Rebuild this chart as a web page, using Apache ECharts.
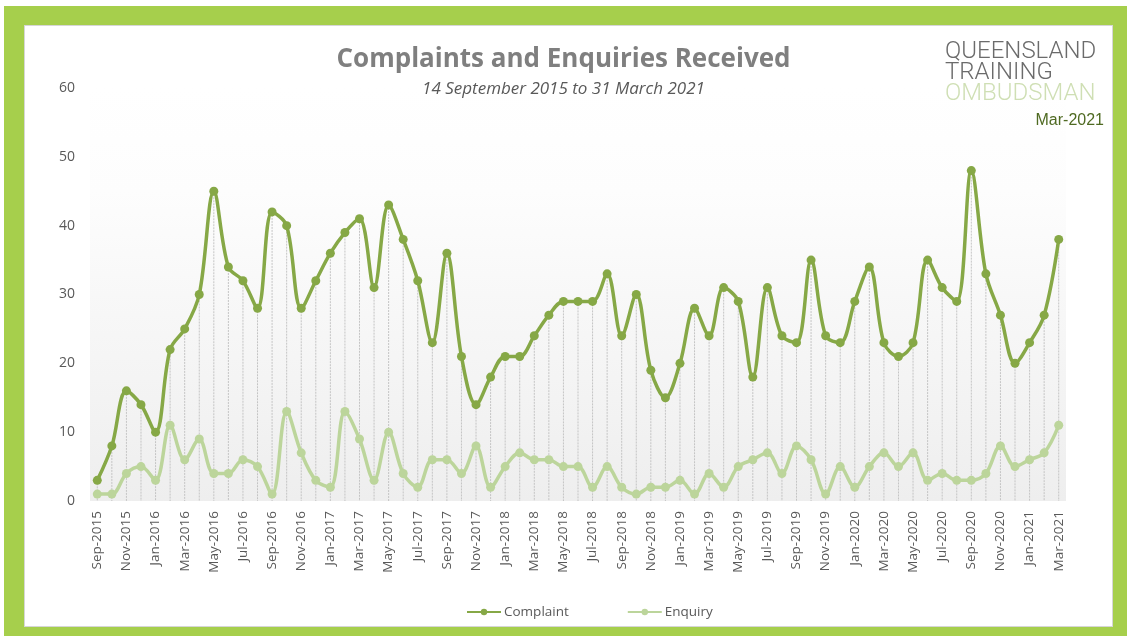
<!DOCTYPE html>
<html>
<head>
<meta charset="utf-8">
<title>Complaints and Enquiries Received</title>
<script src="https://cdn.jsdelivr.net/npm/echarts@6/dist/echarts.min.js"></script>
<style>
    html, body { margin: 0; padding: 0; background: #fff; }
    #frame {
        position: absolute; left: 4px; top: 6px; width: 1123px; height: 630px;
        background: #a6cf4c;
    }
    #panel {
        position: absolute; left: 24px; top: 25px; width: 1087px; height: 600px;
        background: #fff; border: 1px solid #d6d6d6;
    }
    #main { position: absolute; left: 0; top: 0; width: 1127px; height: 636px; }
</style>
</head>
<body>
<div id="frame"></div>
<div id="panel"></div>
<div id="main"></div>
<script>
// ------------------------------------------------------------------------
// Data (monthly, Sep-2015 .. Mar-2021)
// ------------------------------------------------------------------------
var months = [
    'Sep-2015', 'Oct-2015', 'Nov-2015', 'Dec-2015',
    'Jan-2016', 'Feb-2016', 'Mar-2016', 'Apr-2016', 'May-2016', 'Jun-2016', 'Jul-2016', 'Aug-2016', 'Sep-2016', 'Oct-2016', 'Nov-2016', 'Dec-2016',
    'Jan-2017', 'Feb-2017', 'Mar-2017', 'Apr-2017', 'May-2017', 'Jun-2017', 'Jul-2017', 'Aug-2017', 'Sep-2017', 'Oct-2017', 'Nov-2017', 'Dec-2017',
    'Jan-2018', 'Feb-2018', 'Mar-2018', 'Apr-2018', 'May-2018', 'Jun-2018', 'Jul-2018', 'Aug-2018', 'Sep-2018', 'Oct-2018', 'Nov-2018', 'Dec-2018',
    'Jan-2019', 'Feb-2019', 'Mar-2019', 'Apr-2019', 'May-2019', 'Jun-2019', 'Jul-2019', 'Aug-2019', 'Sep-2019', 'Oct-2019', 'Nov-2019', 'Dec-2019',
    'Jan-2020', 'Feb-2020', 'Mar-2020', 'Apr-2020', 'May-2020', 'Jun-2020', 'Jul-2020', 'Aug-2020', 'Sep-2020', 'Oct-2020', 'Nov-2020', 'Dec-2020',
    'Jan-2021', 'Feb-2021', 'Mar-2021'
];

var complaints = [
    3, 8, 16, 14,
    10, 22, 25, 30, 45, 34, 32, 28, 42, 40, 28, 32,
    36, 39, 41, 31, 43, 38, 32, 23, 36, 21, 14, 18,
    21, 21, 24, 27, 29, 29, 29, 33, 24, 30, 19, 15,
    20, 28, 24, 31, 29, 18, 31, 24, 23, 35, 24, 23,
    29, 34, 23, 21, 23, 35, 31, 29, 48, 33, 27, 20,
    23, 27, 38
];

var enquiries = [
    1, 1, 4, 5,
    3, 11, 6, 9, 4, 4, 6, 5, 1, 13, 7, 3,
    2, 13, 9, 3, 10, 4, 2, 6, 6, 4, 8, 2,
    5, 7, 6, 6, 5, 5, 2, 5, 2, 1, 2, 2,
    3, 1, 4, 2, 5, 6, 7, 4, 8, 6, 1, 5,
    2, 5, 7, 5, 7, 3, 4, 3, 3, 4, 8, 5,
    6, 7, 11
];

var yTicks = { min: 0, max: 60, step: 10 };

var COMPLAINT = '#86a846';
var ENQUIRY = '#bcd59b';
var FONT = '"Open Sans", "DejaVu Sans", sans-serif';

var chart = echarts.init(document.getElementById('main'));

var option = {
    animation: false,
    title: {
        text: 'Complaints and Enquiries Received',
        subtext: '14 September 2015 to 31 March 2021',
        left: 'center',
        top: 42,
        itemGap: 8,
        textStyle: { fontFamily: FONT, fontSize: 26, fontWeight: 'bold', color: '#7f7f7f' },
        subtextStyle: { fontFamily: FONT, fontSize: 17, fontStyle: 'italic', color: '#595959' }
    },
    graphic: [
        {
            type: 'text', left: 945, top: 40,
            style: { text: 'QUEENSLAND\nTRAINING', fill: '#6b6b6b', fontFamily: 'Roboto, sans-serif', fontWeight: 300, fontSize: 24, lineHeight: 21 }
        },
        {
            type: 'text', left: 945, top: 82,
            style: { text: 'OMBUDSMAN', fill: '#cfdfb4', fontFamily: 'Roboto, sans-serif', fontWeight: 300, fontSize: 24, lineHeight: 21 }
        },
        {
            type: 'text', right: 23, top: 113,
            style: { text: 'Mar-2021', fill: '#4f6a22', fontFamily: '"Liberation Sans", Arial, sans-serif', fontSize: 16 }
        }
    ],
    legend: {
        bottom: 12,
        left: 461,
        itemGap: 58,
        itemWidth: 34,
        itemHeight: 8,
        data: ['Complaint', 'Enquiry'],
        textStyle: { fontFamily: FONT, fontSize: 13.5, color: '#595959', padding: [0, 0, 0, -2] }
    },
    grid: {
        left: 90,
        right: 61,
        top: 88,
        bottom: 135,
        show: true,
        borderWidth: 0,
        backgroundColor: new echarts.graphic.LinearGradient(0, 0, 0, 1, [
            { offset: 0, color: '#ffffff' },
            { offset: 0.25, color: '#fdfdfd' },
            { offset: 1, color: '#eeeeee' }
        ])
    },
    xAxis: {
        type: 'category',
        data: months,
        boundaryGap: true,
        axisLine: { show: false },
        axisTick: { show: false },
        axisLabel: {
            interval: 1,
            rotate: 90,
            margin: 10,
            fontFamily: FONT,
            fontSize: 13.5,
            color: '#595959'
        }
    },
    yAxis: {
        type: 'value',
        min: yTicks.min,
        max: yTicks.max,
        interval: yTicks.step,
        axisLine: { show: false },
        axisTick: { show: false },
        splitLine: { show: false },
        axisLabel: { margin: 15, fontFamily: FONT, fontSize: 14, color: '#595959' }
    },
    series: [
        {
            // drop lines from each complaint point down to the axis
            type: 'custom',
            silent: true,
            z: 1,
            data: complaints.map(function (v, i) { return [i, v]; }),
            renderItem: function (params, api) {
                var top = api.coord([api.value(0), api.value(1)]);
                var bottom = api.coord([api.value(0), 0]);
                return {
                    type: 'line',
                    shape: { x1: top[0], y1: top[1], x2: bottom[0], y2: bottom[1] },
                    style: { stroke: '#c4c4c4', lineWidth: 1, lineDash: [2, 1] }
                };
            }
        },
        {
            name: 'Enquiry',
            type: 'line',
            data: enquiries,
            smooth: 0.35,
            symbol: 'circle',
            symbolSize: 9,
            z: 3,
            itemStyle: { color: ENQUIRY },
            lineStyle: { width: 3.5, color: ENQUIRY }
        },
        {
            name: 'Complaint',
            type: 'line',
            data: complaints,
            smooth: 0.35,
            symbol: 'circle',
            symbolSize: 9,
            z: 4,
            itemStyle: { color: COMPLAINT },
            lineStyle: { width: 3.5, color: COMPLAINT }
        }
    ]
};

chart.setOption(option);
</script>
</body>
</html>
